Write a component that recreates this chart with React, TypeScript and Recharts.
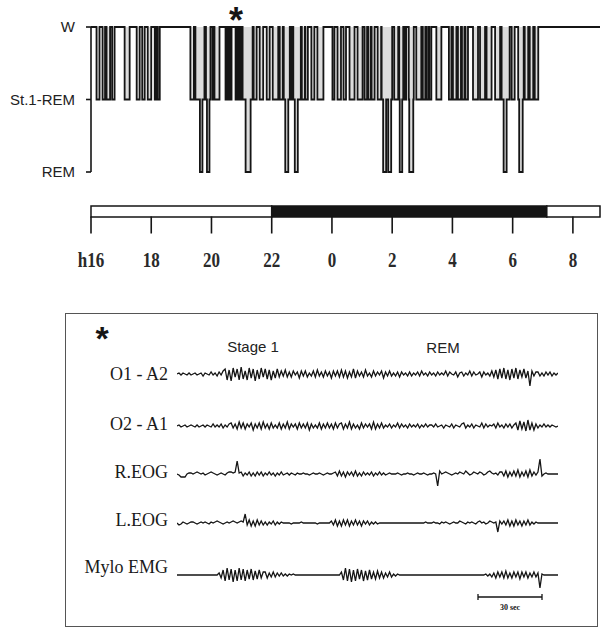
import React from 'react';
import { ComposedChart, LineChart, Line, Area, XAxis, YAxis, BarChart, Bar } from 'recharts';

// Hypnogram time base: minutes after 16:00
const RECORD_END = 1014;
const hourTicks = [0, 120, 240, 360, 480, 600, 720, 840, 960];
const hourLabels = ['h16', '18', '20', '22', '0', '2', '4', '6', '8'];
const stageTicks = [0, 1, 2];
const stageLabels = ['REM', 'St.1-REM', 'W'];

// [start, end, stage] — stage 1 = St.1-REM, 0 = REM; wake everywhere else
const sleepEpisodes: [number, number, number][] = [
  [11, 17, 1], [23, 28, 1], [31, 38, 1], [42, 47, 1],
  [67, 77, 1],
  [91, 97, 1], [102, 107, 1], [113, 120, 1], [127, 130, 1], [133, 137, 1],
  [198, 205, 1],
  [208, 217, 1], [217, 222, 0], [222, 226, 1],
  [229, 231, 1], [231, 236, 0], [236, 238, 1],
  [242, 244, 1], [246, 256, 1],
  [268, 270, 1], [271, 273, 1], [274, 276, 1], [277, 280, 1],
  [288, 290, 1], [291, 293, 1], [294, 296, 1], [297, 300, 1],
  [302, 308, 1], [308, 318, 0], [318, 322, 1],
  [324, 330, 1], [336, 343, 1], [350, 356, 1], [362, 373, 1], [376, 382, 1],
  [384, 387, 1], [387, 393, 0], [393, 396, 1],
  [398, 401, 1],
  [403, 406, 1], [406, 412, 0], [412, 418, 1], [420, 426, 1], [427, 432, 1],
  [439, 445, 1], [451, 463, 1],
  [481, 485, 1], [491, 498, 1], [503, 508, 1], [515, 525, 1], [531, 541, 1],
  [545, 550, 1], [552, 557, 1], [559, 565, 1], [571, 578, 1],
  [579, 582, 1], [582, 588, 0], [588, 592, 1], [592, 598, 0], [598, 600, 1],
  [604, 612, 1],
  [614, 615, 1], [615, 620, 0], [620, 622, 1],
  [625, 628, 1],
  [633, 634, 1], [634, 642, 0], [642, 643, 1],
  [648, 658, 1], [661, 666, 1], [668, 672, 1], [674, 678, 1], [688, 698, 1],
  [713, 718, 1], [721, 728, 1], [731, 737, 1], [739, 744, 1], [746, 751, 1],
  [761, 771, 1], [775, 785, 1], [788, 798, 1], [805, 815, 1],
  [818, 822, 1], [822, 828, 0], [828, 834, 1], [838, 844, 1],
  [851, 853, 1], [853, 860, 0], [860, 862, 1],
  [864, 871, 1], [874, 881, 1], [884, 891, 1],
];

// light / dark schedule in minutes
const lightDark = [{ eveningLight: 360, dark: 548, morningLight: 106 }];

// polygraph channels, one sample per ~0.94 s
const channelNames = ['O1 - A2', 'O2 - A1', 'R.EOG', 'L.EOG', 'Mylo EMG'];

const o1a2 = [
  0, 1, -1, 1, 0, -1, 1, -1, 0, 1, -1, 0, 1, -2, 1, 0, -1, 2, -1, 1, -2, 2, -1, 3,
  5, -6, 4, -7, 6, -3, 5, -6, 7, -5, 3, -6, 6, -4, 5, -7, 4, -5, 6, -3, 5, -5, 4, -6, 3, -4, 5, -3,
  3, -2, 4, -3, 2, -3, 3, -1, 2, -4, 3, -2, 3, -3, 1, -2, 3, -3, 4, -2, 2, -3, 3, -2, 2, -4, 3, -2, 3, -3,
  4, -3, 3, -4, 2, -3, 5, -4, 3, -2, 2, -3, 4, -2, 1, -3, 3, -2, 2, -1, 3, -4, 2, -2, 3, -2, 1, -2, 2, -3,
  2, -1, 1, -2, 2, -2, 1, -1, 2, -2, 3, -1, 1, -2, 2, -1, 1, -2, 2, -1,
  1, -1, 3, -2, 2, 0, -1, 2, -3, 1, 2, -2, 1, -1, 3, -2, 2, -1, 0, 2, -3, 2, -1, 1, -2,
  3, -3, 4, -5, 5, -4, 6, -5, 4, -6, 5, -4, 6, -5, 4, -3, 5, -4, 3, -12, 3, -2, 2,
  2, -2, 1, -2, 2, -1, 2, -2, 1, -1, 1,
];

const o2a1 = [
  0, 1, -1, 0, 1, -1, 0, 1, 0, -1, 1, -1, 0, 1, -1, 1, 0, -1, 2, -1, 1, -1, 2, -2, 1, -1, 2,
  3, -2, 2, -3, 4, -2, 3, -3, 2, -1, 3, -4, 2, -2, 3, -3, 4, -2, 2, -3, 3, -2, 1, -2, 3, -3, 2, -2, 4, -3,
  2, -1, 2, -3, 3, -2, 2, -2, 3, -4, 2, -2, 1, -2, 3, -3, 2, -2, 3, -2, 2, -3, 3, -2, 2,
  3, -3, 2, -2, 4, -3, 2, -2, 1, -3, 3, -2, 2, -1, 2, -3, 4, -3, 2, -2, 3, -2, 1, -1, 2, -2, 1, -1, 3, -2,
  2, -1, 1, -2, 2, -1, 1, -1, 2, -2, 1, -1, 2, -1, 1,
  1, -1, 2, -1, 0, 1, -2, 1, 0, -1, 2, -2, 1, 0, -1, 2, 3, -2, 1, -1, 2, -2, 1, 0, -1, 3, -2, 2, -1, 1,
  0, 2, -2, 3, -1, 1, -2, 2, -1, 2, -2, 1,
  3, -4, 5, -3, 4, -5, 6, -4, 3, -4, 2, -2,
  1, -1, 2, -1, 1, -1, 1, 0, -1, 0,
];

const rEog = [
  0, -1, -3, -3, -3, 0, 1, 1, 0, 1, 2, 1,
  0, 1, -1, 0, 1, 2, 1, 0, -1, 0, 1, 0, -1, 1, 2, 2, 1, 2,
  13, 1,
  2, -2, 1, -1, 2, -2, 1, -2, 2, -1, 2, -2, 1, -1, 2, -1, 1, -2, 1, -1, 2, -1, 0, 1, -1, 1, 0, -1, 1, 0,
  0, 1, 0, 0, -1, 0, 1, 0, 0, 1, 0, -1, 0, 1, 0, 0, 1,
  2, -2, 3, -2, 2, -3, 2, -1, 2, -2, 3, -2, 1, -2, 2, -1, 1, -1, 2, -2, 1, -1, 2, -1, 1, -1, 0, 1, 0,
  0, 0, 1, 0, -1, 0, 0, 1, 0, 0, -1, 0, 1, 0, 0, 1, 0, -1, 0, 0, 1, 0,
  -12, 3,
  0, 1, 2, 1, 0, -1, 0, 1, 0, 2, 1, 0, 3, 1, -1, 0, 2, 1, 0, 2, 1, -1, 0, 2, 3, 1, 0, 1, -1, 2,
  2, -2, 3, -3, 2, -2, 3, -2, 4, -3, 2, -2, 3, -3, 4, -2, 2, -1, 2,
  15,
  -2, 0, 1, 0, 0, 0, 0, 0, 0,
];

const lEog = [
  0, -2, -1, 1, 0, -1, 0, 1, 1, 0, -1, 0, 1, 0, 1, 0, -1, 1, 0, 1, 2, 1, 0, -1, 0, 1, 0, 1, 2, 1, 0, 1, 2, 1,
  9,
  -2, 3, -3, 2, -3, 3, -2, 2, -2, 1, -2, 1, -1, 2, -2, 1, -1, 1, 0,
  0, 0, 0, -1, 0, 0, 0, 0, 1, 0, 0, 0, 0, 0, 0, 0, -1, 0, 0, 0, 0, 0, 0,
  2, -2, 3, -3, 2, -3, 3, -2, 3, -3, 2, -2, 3, -2, 2, -3, 2, -1, 2, -2, 1, -1, 1, -1, 0,
  0, 0, 0, 0, 0, 0, 0, 0, 0, 0, 0, 0, 0, 0, 0, 0, 0, 0, 0, 0, 0, 0, 1, 0, 0,
  0, 1, 0, 0, -1, 1, 0, 1, 0, -1, 0, 1, 0, 0, 2, 1, 0, -1, 1, 0, 1, 0, -1, 1, 2, 0, 1, -1, 0, 2, 1, 0, 1,
  -9, 2,
  -1, 2, -2, 3, -3, 2, -3, 3, -2, 2, -3, 2, -2, 3, -2, 1, -1, 1, 0,
  0, 0, 0, 0, 0, 0, 0, 0, 0, 0,
];

const myloEmg = [
  0, 0, 0, 0, 0, 0, 0, 0, 0, 0, 0, 0, 0, 0, 0, 0, 0, 0, 0, 0, 0,
  2, -3, 5, -6, 7, -5, 6, -7, 5, -6, 7, -5, 6, -6, 5, -4, 6, -5, 4, -4, 5, -3, 3,
  3, -3, 2, -2, 3, -2, 2, -1, 2, -1, 1, -1, 1, 0, 1, 0, 0, 0, 0,
  0, 0, 0, 0, 0, 0, 0, 0, 0, 0, 0, 0, 0, 0, 0, 0, 0, 0, 0,
  3, -5, 7, -6, 6, -7, 5, -6, 6, -4, 5, -6, 4, -5, 5, -4, 3, -4, 4, -3, 3, -3, 2, -2, 3, -2, 1, -1, 1, 0,
  0, 0, 0, 0, 0, 0, 0, 0, 0, 0, 0, 0, 0, 0, 0, 0, 0, 0, 0, 0, 0,
  0, 0, 0, 0, 0, 0, 0, 0, 0, 0, 0, 0, 0, 0, 0, 0, 0, 0, 0, 0, 0,
  1, -1, 1, -2, 2, -3, 3, -2, 3, -3, 4, -3, 2, -3, 3, -2, 3, -4, 3, -2, 3, -3, 2, -2, 3, -2, 2,
  -13,
  1, 0, 0, 0, 0, 0, 0, 0, 0,
];

const channelTraces = [o1a2, o2a1, rEog, lEog, myloEmg];

// turn episodes into a step series, wake filling the gaps
function buildHypnogram() {
  const pts: { t: number; s: number }[] = [];
  let cursor = 0;
  for (const [a, b, s] of sleepEpisodes) {
    if (a > cursor || pts.length === 0) pts.push({ t: cursor, s: 2 });
    pts.push({ t: a, s });
    cursor = b;
  }
  pts.push({ t: cursor, s: 2 }, { t: RECORD_END, s: 2 });
  return pts;
}

const hypnoData = buildHypnogram();

const INK = '#151515';
const serif = '"Liberation Serif", "Times New Roman", serif';
const sans = '"Liberation Sans", Arial, sans-serif';

const labelY = [374, 424, 472, 520, 567];
const traceY = [374, 426, 474, 523, 575];

// tall, narrow clock digits
function HourTick(props: any) {
  const { x, y, index } = props;
  return (
    <text
      transform={`translate(${x},${y}) scale(1,1.25)`}
      textAnchor="middle"
      dy="0.71em"
      fontSize={17}
      fontWeight="bold"
      fontFamily={serif}
      fill="#2a2a2a"
    >
      {hourLabels[index]}
    </text>
  );
}

function Trace({ values, center }: { values: number[]; center: number }) {
  const data = values.map((v, i) => ({ i, v }));
  return (
    <div style={{ position: 'absolute', left: 177, top: center - 20 }}>
      <LineChart width={381} height={40} data={data} margin={{ top: 0, right: 0, bottom: 0, left: 0 }}>
        <XAxis dataKey="i" type="number" domain={[0, values.length - 1]} hide />
        <YAxis type="number" domain={[-20, 20]} hide />
        <Line
          type="linear"
          dataKey="v"
          stroke={INK}
          strokeWidth={1.3}
          dot={false}
          isAnimationActive={false}
        />
      </LineChart>
    </div>
  );
}

export default function App() {
  return (
    <div
      style={{
        position: 'absolute',
        left: 0,
        top: 0,
        width: 612,
        height: 633,
        background: '#fff',
        overflow: 'hidden',
      }}
    >
      {/* hypnogram */}
      <div style={{ position: 'absolute', left: 0, top: 0 }}>
        <ComposedChart width={612} height={185} data={hypnoData} margin={{ top: 27, right: 12, bottom: 13, left: 0 }}>
          <XAxis dataKey="t" type="number" domain={[0, RECORD_END]} hide />
          <YAxis
            type="number"
            domain={[0, 2]}
            ticks={stageTicks}
            interval={0}
            width={91}
            tickSize={5}
            tickMargin={11}
            tickFormatter={(v: number) => stageLabels[v]}
            axisLine={{ stroke: INK, strokeWidth: 1.6 }}
            tickLine={{ stroke: INK, strokeWidth: 1.6 }}
            tick={{ fontSize: 15, fill: '#222', fontFamily: sans }}
          />
          <Area
            type="stepAfter"
            dataKey="s"
            baseValue={2}
            stroke="none"
            fill="#8a8a8a"
            fillOpacity={0.3}
            isAnimationActive={false}
          />
          <Line
            type="stepAfter"
            dataKey="s"
            stroke={INK}
            strokeWidth={1.8}
            dot={false}
            isAnimationActive={false}
          />
        </ComposedChart>
      </div>

      {/* light / dark bar with clock axis */}
      <div style={{ position: 'absolute', left: 0, top: 190 }}>
        <BarChart
          width={612}
          height={90}
          data={lightDark}
          layout="vertical"
          barCategoryGap={0}
          margin={{ top: 16, right: 12, bottom: 13.5, left: 91 }}
        >
          <XAxis
            type="number"
            domain={[0, RECORD_END]}
            ticks={hourTicks}
            interval={0}
            height={50}
            tickSize={17}
            tickMargin={18}
            axisLine={false}
            tickLine={{ stroke: INK, strokeWidth: 1.6 }}
            tick={<HourTick />}
          />
          <YAxis type="category" hide />
          <Bar dataKey="eveningLight" stackId="ld" fill="#fff" stroke={INK} strokeWidth={1.5} isAnimationActive={false} />
          <Bar dataKey="dark" stackId="ld" fill={INK} stroke={INK} strokeWidth={1.5} isAnimationActive={false} />
          <Bar dataKey="morningLight" stackId="ld" fill="#fff" stroke={INK} strokeWidth={1.5} isAnimationActive={false} />
        </BarChart>
      </div>

      {/* polygraph panel */}
      <div
        style={{
          position: 'absolute',
          left: 65,
          top: 313,
          width: 533,
          height: 314,
          border: '1.5px solid #555',
          boxSizing: 'border-box',
        }}
      />
      {channelTraces.map((vals, k) => (
        <Trace key={channelNames[k]} values={vals} center={traceY[k]} />
      ))}

      <svg width={612} height={633} style={{ position: 'absolute', left: 0, top: 0, pointerEvents: 'none' }}>
        <text x={236} y={33} fontSize={36} fontWeight="bold" fontFamily={sans} textAnchor="middle" fill={INK}>
          *
        </text>
        <text x={102} y={350} fontSize={34} fontWeight="bold" fontFamily={sans} textAnchor="middle" fill={INK}>
          *
        </text>
        <text x={253} y={352} fontSize={15} fontFamily={sans} textAnchor="middle" fill="#222">
          Stage 1
        </text>
        <text x={443} y={353} fontSize={15} fontFamily={sans} textAnchor="middle" fill="#222">
          REM
        </text>
        {channelNames.map((name, k) => (
          <text key={name} x={168} y={labelY[k] + 6} fontSize={18} fontFamily={serif} textAnchor="end" fill="#1a1a1a">
            {name}
          </text>
        ))}
        <g stroke={INK} strokeWidth={1.3}>
          <line x1={478} y1={597} x2={542} y2={597} />
          <line x1={478} y1={594} x2={478} y2={600} />
          <line x1={542} y1={594} x2={542} y2={600} />
        </g>
        <text x={510} y={610} fontSize={8} fontWeight="bold" fontFamily={serif} textAnchor="middle" fill={INK}>
          30 sec
        </text>
      </svg>
    </div>
  );
}
